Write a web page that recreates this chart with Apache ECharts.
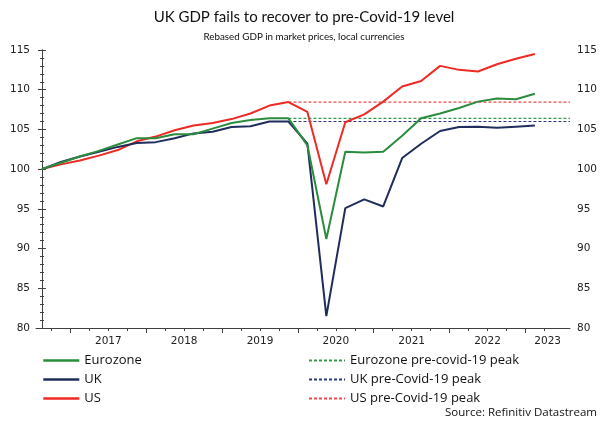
<!DOCTYPE html>
<html>
<head>
<meta charset="utf-8">
<script src="https://cdn.jsdelivr.net/npm/echarts@6/dist/echarts.min.js"></script>
<style>html,body{margin:0;padding:0;background:#fff}#c{width:600px;height:421px}</style>
</head>
<body>
<div id="c"></div>
<script>
var quarters = ['2016 Q3','2016 Q4','2017 Q1','2017 Q2','2017 Q3','2017 Q4','2018 Q1','2018 Q2','2018 Q3','2018 Q4','2019 Q1','2019 Q2','2019 Q3','2019 Q4','2020 Q1','2020 Q2','2020 Q3','2020 Q4','2021 Q1','2021 Q2','2021 Q3','2021 Q4','2022 Q1','2022 Q2','2022 Q3','2022 Q4','2023 Q1'];
var eurozone = [100,100.8,101.6,102.3,103.1,103.9,103.9,104.4,104.4,105.1,105.8,106.2,106.4,106.4,103.0,91.2,102.2,102.1,102.2,104.2,106.4,107.0,107.7,108.5,108.9,108.8,109.5];
var uk = [100,100.9,101.6,102.2,102.8,103.3,103.4,103.9,104.5,104.7,105.3,105.4,106.0,106.0,103.2,81.5,95.1,96.2,95.3,101.4,103.2,104.8,105.3,105.35,105.2,105.35,105.5];
var us = [100,100.6,101.1,101.7,102.4,103.5,104.1,104.9,105.5,105.8,106.3,107.0,108.0,108.45,107.2,98.1,105.9,106.9,108.5,110.4,111.1,113.0,112.5,112.3,113.2,113.9,114.5];
var yearLabels = ['2017','2018','2019','2020','2021','2022','2023'];
var yTicks = [80,85,90,95,100,105,110,115];
var peakQuarter = '2019 Q4';
var seriesNames = ['Eurozone','UK','US'];
var peakNames = ['Eurozone pre-covid-19 peak','UK pre-Covid-19 peak','US pre-Covid-19 peak'];

var XMIN = -0.315, XMAX = 27.85;
var peakIdx = quarters.indexOf(peakQuarter);
function peakOf(arr){ return Math.max.apply(null, arr.slice(0, peakIdx + 1)); }
function pts(arr){ return arr.map(function(v,i){ return [i, v]; }); }
function peakLine(arr){ var p = peakOf(arr); return [[peakIdx, p],[XMAX, p]]; }

var qTicks = [], yrTicks = [], labelPos = {};
for (var i = 0; i < quarters.length; i++) {
  var b = i + 0.5; if (b < XMAX) qTicks.push(b);
}
quarters.forEach(function(q, i){
  if (q.slice(5) === 'Q1') yrTicks.push(i - 0.5);
});
yearLabels.forEach(function(y){
  var s = quarters.indexOf(y + ' Q1') - 0.5;
  var e = Math.min(s + 4, XMAX);
  labelPos[((s + e) / 2).toFixed(3)] = y;
});
var labelVals = Object.keys(labelPos).map(Number);

var cols = { ez: '#2A8C3C', uk: '#1F2D5C', us: '#EE2A24' };
var dcols = { ez: '#3A9A4A', uk: '#2A3A78', us: '#F0484A' };
var axisCol = '#404040';
var lblFont = { fontFamily: 'DejaVu Sans', fontSize: 10.5, color: '#222' };

var chart = echarts.init(document.getElementById('c'), null, { renderer: 'canvas' });
var legendCommon = { orient: 'vertical', top: 354, itemWidth: 36, itemHeight: 14, itemGap: 6, padding: 0,
  itemStyle: { opacity: 0 },
  textStyle: { fontFamily: 'Open Sans', fontSize: 13, color: '#111' } };
chart.setOption({
  animation: false,
  backgroundColor: '#fff',
  grid: { left: 36, right: 27, top: 50, bottom: 93, containLabel: false },
  graphic: [
    { type: 'text', x: 304, y: 17, style: { text: 'UK GDP fails to recover to pre-Covid-19 level', font: '15px Lato', fill: '#111', textAlign: 'center', textVerticalAlign: 'middle' } },
    { type: 'text', x: 304, y: 37, style: { text: 'Rebased GDP in market prices, local currencies', font: '9.8px Lato', fill: '#111', textAlign: 'center', textVerticalAlign: 'middle' } },
    { type: 'text', x: 597, y: 413, style: { text: 'Source: Refinitiv Datastream', font: '11.5px "Open Sans"', fill: '#111', textAlign: 'right', textVerticalAlign: 'middle' } }
  ],
  legend: [
    Object.assign({ data: seriesNames.map(function(n){ return { name: n, lineStyle: { width: 2.6 } }; }), left: 42 }, legendCommon),
    Object.assign({ data: peakNames, left: 308 }, legendCommon)
  ],
  xAxis: [
    { type: 'value', min: XMIN, max: XMAX, position: 'bottom',
      axisLine: { show: true, lineStyle: { color: axisCol, width: 1 } },
      axisTick: { show: true, length: 3, customValues: qTicks, lineStyle: { color: axisCol } },
      axisLabel: { show: false }, splitLine: { show: false } },
    { type: 'value', min: XMIN, max: XMAX, position: 'bottom', offset: 0,
      axisLine: { show: false },
      axisTick: { show: true, length: 5, customValues: yrTicks, lineStyle: { color: axisCol } },
      axisLabel: { show: true, customValues: labelVals, margin: 8,
        formatter: function(v){ return labelPos[v.toFixed(3)] || ''; },
        fontFamily: lblFont.fontFamily, fontSize: lblFont.fontSize, color: lblFont.color },
      splitLine: { show: false } }
  ],
  yAxis: [
    { type: 'value', min: 80, max: 115, interval: 5, position: 'left',
      axisLine: { show: true, lineStyle: { color: axisCol } },
      axisTick: { show: true, length: 4, lineStyle: { color: axisCol } },
      minorTick: { show: true, splitNumber: 5, length: 2, lineStyle: { color: axisCol } },
      axisLabel: { margin: 6, formatter: function(v){ return yTicks.indexOf(v) >= 0 ? String(v) : ''; }, fontFamily: lblFont.fontFamily, fontSize: lblFont.fontSize, color: lblFont.color },
      splitLine: { show: false } },
    { type: 'value', min: 80, max: 115, interval: 5, position: 'right',
      axisLine: { show: true, lineStyle: { color: axisCol } },
      axisTick: { show: true, length: 4, lineStyle: { color: axisCol } },
      minorTick: { show: true, splitNumber: 5, length: 2, lineStyle: { color: axisCol } },
      axisLabel: { margin: 7, formatter: function(v){ return yTicks.indexOf(v) >= 0 ? String(v) : ''; }, fontFamily: lblFont.fontFamily, fontSize: lblFont.fontSize, color: lblFont.color },
      splitLine: { show: false } }
  ],
  series: [
    { name: peakNames[0], type: 'line', data: peakLine(eurozone), symbol: 'none', lineStyle: { color: dcols.ez, width: 1.2, type: [3,2] }, itemStyle: { color: dcols.ez }, z: 1 },
    { name: peakNames[1], type: 'line', data: peakLine(uk), symbol: 'none', lineStyle: { color: dcols.uk, width: 1.2, type: [3,2] }, itemStyle: { color: dcols.uk }, z: 1 },
    { name: peakNames[2], type: 'line', data: peakLine(us), symbol: 'none', lineStyle: { color: dcols.us, width: 1.2, type: [3,2] }, itemStyle: { color: dcols.us }, z: 1 },
    { name: 'US', type: 'line', data: pts(us), symbol: 'none', lineStyle: { color: cols.us, width: 2 }, itemStyle: { color: cols.us }, z: 2 },
    { name: 'UK', type: 'line', data: pts(uk), symbol: 'none', lineStyle: { color: cols.uk, width: 2 }, itemStyle: { color: cols.uk }, z: 3 },
    { name: 'Eurozone', type: 'line', data: pts(eurozone), symbol: 'none', lineStyle: { color: cols.ez, width: 2 }, itemStyle: { color: cols.ez }, z: 4 }
  ]
});
</script>
</body>
</html>
